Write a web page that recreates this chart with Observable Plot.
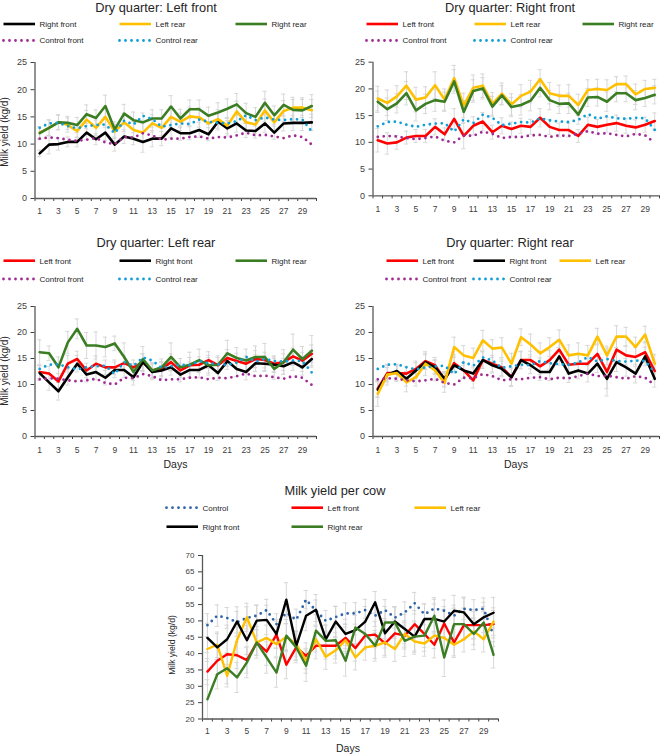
<!DOCTYPE html>
<html><head><meta charset="utf-8">
<script src="https://cdn.jsdelivr.net/npm/d3@7"></script>
<script src="https://cdn.jsdelivr.net/npm/@observablehq/plot@0.6"></script>
<style>
html,body{margin:0;padding:0;background:#fff;}
#wrap{position:relative;width:660px;height:755px;overflow:hidden;font-family:"Liberation Sans",Arial,sans-serif;}
#wrap > svg{position:absolute;}
</style></head><body><div id="wrap"></div>
<script>
// ---------------- DATA ----------------
const days = [1,2,3,4,5,6,7,8,9,10,11,12,13,14,15,16,17,18,19,20,21,22,23,24,25,26,27,28,29,30];
const xTickLabels = [1,3,5,7,9,11,13,15,17,19,21,23,25,27,29];
const yTicksQuarter = [0,5,10,15,20,25];
const yTicksCow = [20,25,30,35,40,45,50,55,60,65,70];

// Controls (same cows in all four quarter panels)
const controlFront = [11,11.2,11.1,10.8,10.6,10.8,11.1,10.3,10,11.3,11.2,12,11.6,10.8,11,11,11.3,11.4,11,11.3,11.2,11.6,12.1,11.6,11.7,11.4,11.1,11.6,11.3,9.9];
const controlRear  = [13,13.8,13.9,13.3,12.9,13.3,13.5,13.6,12,14.3,13.6,15.2,14.6,13.2,13.5,13.8,13.7,14.5,14.1,13.9,13.8,14.2,15.3,14.4,14.9,14.5,14.4,14.6,14.5,12.3];

// Dry quarter: Left front
const lfDry_rightFront = [8.3,9.9,10,10.4,10.4,12.1,10.9,12.1,9.9,11.4,11,10.4,11,11,12.9,12,12,12.6,11.8,14.1,12.9,13.8,12.5,12.4,13.8,12.1,13.8,13.9,13.9,14];
const lfDry_leftRear   = [12.1,13,14,13.5,12.4,14.5,13,15,12.3,14,12.6,12.1,13.8,13,15,14.1,15.1,14.9,13.8,14.6,13.4,16,14,13.6,16.2,14,16.1,16.7,16.7,16.2];
const lfDry_rightRear  = [12,13,14,13.9,13.5,15.5,14.8,17,12.7,15.6,14.4,14,14.7,14.7,16.9,14.7,16.4,16.4,15.2,15.8,16.5,17.3,15.7,15,17.6,15.3,17.2,16.3,16.2,17];
const lfDry_rightFront_se = [0.6,1.7,1.1,0.9,0.9,1.3,1.0,1.4,1.2,1.3,1.1,1.9,1.5,1.3,1.7,1.3,1.2,1.4,1.2,1.5,1.4,1.6,1.3,1.3,1.6,1.2,1.4,1.4,1.4,1.5];
const lfDry_leftRear_se   = [1.1,1.4,1.4,1.3,1.2,1.7,1.4,1.9,1.3,1.7,1.5,1.7,1.6,1.5,1.9,1.6,1.7,1.8,1.6,1.7,1.5,1.9,1.7,1.6,2.1,1.7,1.9,1.9,1.8,2.0];
const lfDry_rightRear_se  = [1.2,1.5,1.3,1.2,1.4,1.7,1.5,2.0,1.4,1.7,1.5,1.7,1.6,1.6,2.0,1.7,1.7,1.7,1.6,1.8,1.8,2.0,1.8,1.7,2.1,1.7,2.0,1.9,2.0,2.1];

// Dry quarter: Right front
const rfDry_leftFront = [10.4,9.8,10,10.9,11.2,11.2,12.9,11.5,14.4,11.2,13.1,13.9,11.9,13.1,12.5,13.1,12.9,14.6,12.9,12.3,12.3,11.2,13.3,12.9,13.3,13.6,13.1,12.8,13.3,14];
const rfDry_leftRear  = [18.2,17.4,18.6,20.6,18,18.4,20.7,18,22,16.9,20.2,20.6,17.2,19.1,17.1,18.7,19.5,21.8,19.2,18.7,18.7,17,19.8,20,19.8,20.9,20.9,19,20,20.2];
const rfDry_rightRear = [17.6,16.2,17.3,19.2,16,17.2,17.9,17.6,21.4,15.7,19.6,20.1,16.7,18.8,16.6,17,17.8,20.2,17.9,17.2,17.3,15.2,18.4,18.5,17.6,19.2,19.2,17.9,18.3,18.9];
const rfDry_leftFront_se = [2.2,2.0,1.3,1.2,1.2,1.2,1.5,1.2,1.9,2.4,1.7,1.7,1.3,1.5,1.3,1.4,1.4,1.7,1.4,1.3,1.3,1.2,1.4,1.4,1.4,1.5,1.4,1.4,1.4,1.5];
const rfDry_leftRear_se  = [2.3,2.4,2.0,2.6,2.3,2.0,2.5,2.0,2.4,2.3,2.4,2.2,2.1,2.0,2.0,2.1,2.1,1.8,2.0,2.0,2.1,2.0,1.9,1.8,1.9,1.4,1.5,1.9,1.6,1.6];
const rfDry_rightRear_se = [2.0,2.1,1.8,2.2,2.0,1.8,2.1,1.8,2.2,2.1,2.1,2.0,1.9,1.8,1.8,1.9,1.9,1.7,1.8,1.8,1.9,1.8,1.7,1.7,1.8,1.6,1.6,1.8,1.6,1.7];

// Dry quarter: Left rear
const lrDry_leftFront  = [12.4,12.1,10.6,14,14.9,12.7,14,13.3,13.3,14.1,13.3,14.3,12.7,13,14.3,12.7,13.7,13.8,14.7,13.7,15.1,14.5,14,14.9,14.7,14,14.3,15.4,14.6,15.9];
const lrDry_rightFront = [12.2,10.4,8.7,11.4,14,11.9,12.4,11.3,12.8,12.8,11.4,14.3,12.4,12.7,13.3,11.9,12.8,12.8,13.7,12.2,14.5,13,12.4,14.1,14,13.8,13.5,14.3,13.3,14.9];
const lrDry_rightRear  = [16.2,16,13.3,18.1,20.7,17.5,17.5,17.2,17.9,15.3,12.4,14.9,12.7,13.3,15.3,13.3,13.8,14.7,13.7,13.8,16,15.1,14.6,15.3,15.3,13,14.3,16.7,14.9,16.5];
const lrDry_leftFront_se  = [1.3,1.4,1.5,1.6,1.5,1.4,1.5,1.4,1.4,1.5,1.4,1.6,1.4,1.4,1.6,1.4,1.5,1.5,1.6,1.5,1.6,1.5,1.5,1.6,1.5,1.5,1.6,1.6,1.5,1.7];
const lrDry_rightFront_se = [1.4,1.5,1.7,1.5,1.6,1.4,1.5,1.4,1.5,1.5,1.5,1.6,1.5,1.5,1.5,1.4,1.5,1.5,1.5,1.4,1.6,1.5,1.5,1.6,1.5,1.5,1.5,1.6,1.5,1.6];
const lrDry_rightRear_se  = [2.4,1.4,2.0,2.1,1.9,2.5,2.6,1.9,1.4,2.7,1.6,2.4,1.5,1.6,2.7,1.7,2.4,2.1,1.9,1.7,2.5,2.0,2.2,2.1,2.6,2.0,2.4,3.0,2.4,2.9];

// Dry quarter: Right rear
const rrDry_leftFront  = [9.2,12.2,12.2,12.1,13,14.5,13.7,10.9,14.1,12.7,10.8,14.7,14,13.3,11.4,14.7,14.7,13.5,14.7,16.7,13.8,14,14,15.9,12.4,16.7,15.6,15.3,16.2,12.6];
const rrDry_rightFront = [9,11.9,12.6,11.1,12.7,14.3,13.3,11.1,13.7,12.7,12.1,14.7,13.7,13,11.4,14.7,13.7,12.4,12.4,15.4,12.1,12.7,12.1,14,11.1,14.3,13.3,12.1,15.4,11.1];
const rrDry_leftRear   = [8.2,11.9,12.2,10.4,11.4,14,12.7,10.3,17.2,15.6,15.1,18.5,16.9,17.1,14,19.1,17.7,16,17.2,18.6,15.6,15.9,15.6,19.2,15.6,19.2,19.2,17.2,19.6,14];
const rrDry_leftFront_se  = [1.6,1.5,1.4,1.4,1.5,1.5,1.5,1.4,1.6,1.6,1.5,1.6,1.6,1.6,1.8,1.7,1.7,1.6,1.8,1.9,1.8,1.7,1.7,1.9,4.6,2.1,1.8,1.8,2.0,1.6];
const rrDry_rightFront_se = [1.5,1.4,1.3,1.4,1.5,1.4,1.4,1.4,1.5,1.5,1.5,1.6,1.5,1.5,1.6,1.6,1.6,1.6,1.6,1.7,1.7,1.6,1.6,1.7,1.9,1.8,1.7,1.8,1.8,1.6];
const rrDry_leftRear_se   = [2.4,2.0,1.6,1.8,1.7,2.3,2.0,1.8,1.9,1.9,1.9,1.9,1.7,1.9,2.0,1.6,2.0,2.0,1.8,1.9,2.0,2.1,1.9,1.6,1.8,2.1,1.8,1.9,1.6,1.8];

// Milk yield per cow
const cow_control    = [48.7,51.6,50.9,49.6,50.9,51.6,53.3,49,52.5,50.3,56.5,53.1,50,51.2,52.3,52.3,53.3,51.6,53.3,51,52.6,55.4,52,53.8,53.1,51.6,53.7,53.3,53.7,45.5];
const cow_leftFront  = [34.5,37.8,39.8,39.5,38,43.4,40.6,45.8,36.6,41.9,39.3,42.4,42.4,42.4,44.8,41.7,45.5,45.8,43.1,46.2,45.5,49,46,42.7,49.2,43.4,48.7,48.7,48.7,49];
const cow_leftRear   = [41.4,42.7,33.2,44.1,51.1,43.4,44.8,42.9,45.2,42.9,37.8,44.4,39,41,44.1,38.8,41.9,42.4,43.4,41.4,46,43.7,43.1,45.5,44.8,42.7,44.4,46.8,44.4,49.8];
const cow_rightFront = [44.8,41.9,44.4,49.8,44.1,50.1,50.3,46,56.5,42.4,51.6,53.4,44.4,49.8,46,47.2,49.8,55.7,46.2,49.8,47.5,45.2,50.6,50.6,49.8,53.1,52.6,49,51.1,52.5];
const cow_rightRear  = [26,33.7,35.5,32.7,37.3,43.4,38.8,34.2,45.5,41.9,36.3,47,43.9,44.1,37.8,48,46,42.4,49.5,49.5,43.9,45.2,45.5,51.6,38.8,49,49,46,49.5,39.6];
const cow_control_se    = [3.5,3.3,3.2,3.3,3.4,3.3,3.3,3.2,3.4,3.3,2.8,3.3,3.2,3.3,3.2,3.3,3.3,3.3,3.2,3.2,3.2,3.3,3.2,3.3,3.3,3.2,3.3,3.2,3.3,3.4];
const cow_leftFront_se  = [4.0,4.2,4.0,4.1,4.0,3.9,4.2,4.1,4.3,4.0,4.0,4.0,4.1,4.0,4.1,4.0,4.1,4.0,4.2,4.1,4.1,4.2,4.1,4.0,4.3,4.1,4.2,4.2,4.1,4.2];
const cow_leftRear_se   = [3.8,3.9,3.4,3.9,4.3,3.9,3.9,3.9,4.0,3.9,3.8,3.9,3.8,3.9,4.0,3.8,3.9,3.9,3.9,3.8,4.0,3.9,3.9,4.0,3.9,3.9,3.9,4.1,3.9,4.2];
const cow_rightFront_se = [4.5,4.2,4.3,4.5,4.4,4.6,4.5,4.4,5.2,4.3,4.6,4.7,4.4,4.6,4.5,4.5,4.6,3.3,4.5,4.6,4.5,4.4,4.6,4.6,4.6,4.7,4.7,4.5,4.6,4.7];
const cow_rightRear_se  = [6.0,4.5,4.7,4.6,4.7,4.8,4.8,4.5,4.9,4.7,4.8,4.9,4.7,4.8,4.7,4.9,4.8,4.7,4.9,4.9,4.8,4.8,4.8,5.0,5.8,4.9,4.9,4.8,4.9,4.0];

// ---------------- STYLES ----------------
const STYLE = {
  "Left front":    {color: "#FF0000"},
  "Right front":   {color: "#000000"},
  "Left rear":     {color: "#FFC000"},
  "Right rear":    {color: "#3B7D23"},
  "Control front": {color: "#A02B93", dotted: true},
  "Control rear":  {color: "#0F9ED5", dotted: true},
  "Control":       {color: "#2F64A8", dotted: true}
};
const ERR = "#D4D4D4";
const AXIS = "#595959";
const TXT = "#262626";
const FONT = '"Liberation Sans", Arial, sans-serif';

const wrap = document.getElementById("wrap");

function makePanel(cfg) {
  const {left, top, width, height, x0, x1, yTop, yBot, yDomain, yTicks, series, yFont, xFont, xPad, lineW} = cfg;
  const rows = [];
  for (const s of series) s.values.forEach((v, i) => rows.push({day: days[i], v, e: s.err ? s.err[i] : null, name: s.name}));
  const errRows = rows.filter(r => r.e != null);
  const boundaries = days.map(d => d - 0.5).concat([days[days.length - 1] + 0.5]);
  const marks = [
    Plot.ruleX(errRows, {x: "day", y1: d => d.v - d.e, y2: d => d.v + d.e, stroke: ERR, strokeWidth: 0.9}),
    Plot.ruleY(errRows, {y: d => d.v + d.e, x1: d => d.day - 0.22, x2: d => d.day + 0.22, stroke: ERR, strokeWidth: 0.9}),
    Plot.ruleY(errRows, {y: d => d.v - d.e, x1: d => d.day - 0.22, x2: d => d.day + 0.22, stroke: ERR, strokeWidth: 0.9})
  ];
  for (const s of series) {
    const st = STYLE[s.name];
    const opts = {x: "day", y: "v", stroke: st.color, strokeLinejoin: "round"};
    if (st.dotted) { opts.strokeWidth = 2.8; opts.strokeDasharray = "0,6"; opts.strokeLinecap = "round"; }
    else { opts.strokeWidth = lineW; }
    marks.push(Plot.line(rows.filter(r => r.name === s.name), opts));
  }
  marks.push(
    Plot.axisY({ticks: yTicks, tickSize: 4, tickPadding: 4, fontSize: yFont, tickFormat: d => String(d)}),
    Plot.axisX({ticks: boundaries, tickSize: 3, tickFormat: () => ""}),
    Plot.axisX({ticks: xTickLabels, tickSize: 0, tickPadding: xPad, fontSize: xFont, tickFormat: d => String(d)}),
    Plot.ruleX([0.5], {stroke: AXIS, strokeWidth: 1.3}),
    Plot.ruleY([yDomain[0]], {stroke: AXIS, strokeWidth: 1.3})
  );
  const svg = Plot.plot({
    width, height,
    marginLeft: x0 - left, marginRight: left + width - x1,
    marginTop: yTop - top, marginBottom: top + height - yBot,
    x: {domain: [0.5, 30.5], label: null},
    y: {domain: yDomain, label: null},
    style: {background: "transparent", color: "#404040", fontFamily: FONT},
    marks
  });
  svg.style.left = left + "px";
  svg.style.top = top + "px";
  wrap.appendChild(svg);
}

makePanel({left: 0, top: 50, width: 330, height: 172, x0: 34.5, x1: 316, yTop: 62, yBot: 198,
  yDomain: [0, 25], yTicks: yTicksQuarter, yFont: 9, xFont: 8.5, xPad: 9, lineW: 2.6,
  series: [
    {name: "Right front", values: lfDry_rightFront, err: lfDry_rightFront_se},
    {name: "Left rear", values: lfDry_leftRear, err: lfDry_leftRear_se},
    {name: "Right rear", values: lfDry_rightRear, err: lfDry_rightRear_se},
    {name: "Control front", values: controlFront},
    {name: "Control rear", values: controlRear}
  ]});

makePanel({left: 330, top: 50, width: 330, height: 172, x0: 372.5, x1: 659, yTop: 61.7, yBot: 195.3,
  yDomain: [0, 25], yTicks: yTicksQuarter, yFont: 9, xFont: 8.5, xPad: 10, lineW: 2.6,
  series: [
    {name: "Left front", values: rfDry_leftFront, err: rfDry_leftFront_se},
    {name: "Left rear", values: rfDry_leftRear, err: rfDry_leftRear_se},
    {name: "Right rear", values: rfDry_rightRear, err: rfDry_rightRear_se},
    {name: "Control front", values: controlFront},
    {name: "Control rear", values: controlRear}
  ]});

makePanel({left: 0, top: 292, width: 330, height: 166, x0: 34.5, x1: 316, yTop: 306, yBot: 436,
  yDomain: [0, 25], yTicks: yTicksQuarter, yFont: 9, xFont: 8.5, xPad: 10, lineW: 2.6,
  series: [
    {name: "Left front", values: lrDry_leftFront, err: lrDry_leftFront_se},
    {name: "Right front", values: lrDry_rightFront, err: lrDry_rightFront_se},
    {name: "Right rear", values: lrDry_rightRear, err: lrDry_rightRear_se},
    {name: "Control front", values: controlFront},
    {name: "Control rear", values: controlRear}
  ]});

makePanel({left: 330, top: 292, width: 330, height: 166, x0: 372.5, x1: 659, yTop: 306, yBot: 436,
  yDomain: [0, 25], yTicks: yTicksQuarter, yFont: 9, xFont: 8.5, xPad: 10, lineW: 2.6,
  series: [
    {name: "Left front", values: rrDry_leftFront, err: rrDry_leftFront_se},
    {name: "Right front", values: rrDry_rightFront, err: rrDry_rightFront_se},
    {name: "Left rear", values: rrDry_leftRear, err: rrDry_leftRear_se},
    {name: "Control front", values: controlFront},
    {name: "Control rear", values: controlRear}
  ]});

makePanel({left: 150, top: 540, width: 360, height: 202, x0: 202, x1: 498, yTop: 555, yBot: 718.5,
  yDomain: [20, 70], yTicks: yTicksCow, yFont: 8, xFont: 8.5, xPad: 9, lineW: 2.4,
  series: [
    {name: "Control", values: cow_control, err: cow_control_se},
    {name: "Left front", values: cow_leftFront, err: cow_leftFront_se},
    {name: "Left rear", values: cow_leftRear, err: cow_leftRear_se},
    {name: "Right front", values: cow_rightFront, err: cow_rightFront_se},
    {name: "Right rear", values: cow_rightRear, err: cow_rightRear_se}
  ]});

// ---------------- TITLES, LEGENDS, AXIS TITLES ----------------
const titles = [
  {text: "Dry quarter: Left front", x: 156, y: 11.5},
  {text: "Dry quarter: Right front", x: 510, y: 11.5},
  {text: "Dry quarter: Left rear", x: 156, y: 246.5},
  {text: "Dry quarter: Right rear", x: 510, y: 246.5},
  {text: "Milk yield per cow", x: 335, y: 494.5}
];
const legends = [
  {rows: [24, 40.5], items: [["Right front", 2, 0], ["Left rear", 118, 0], ["Right rear", 234, 0], ["Control front", 2, 1], ["Control rear", 118, 1]]},
  {rows: [24, 40.5], items: [["Left front", 365, 0], ["Left rear", 473, 0], ["Right rear", 581, 0], ["Control front", 365, 1], ["Control rear", 473, 1]]},
  {rows: [260.7, 279], items: [["Left front", 2, 0], ["Right front", 118, 0], ["Right rear", 234, 0], ["Control front", 2, 1], ["Control rear", 118, 1]]},
  {rows: [260.7, 279], items: [["Left front", 385, 0], ["Right front", 472, 0], ["Left rear", 558, 0], ["Control front", 385, 1], ["Control rear", 472, 1]]},
  {rows: [507.7, 526.7], items: [["Control", 165, 0], ["Left front", 290, 0], ["Left rear", 413, 0], ["Right front", 165, 1], ["Right rear", 290, 1]]}
];
const yTitles = [
  {text: "Milk yield (kg/d)", x: 7.5, y: 132, size: 10},
  {text: "Milk yield (kg/d)", x: 7.5, y: 371, size: 10},
  {text: "Milk yield (kg/d)", x: 175, y: 645, size: 8.6}
];
const xTitles = [
  {text: "Days", x: 175.5, y: 467.7},
  {text: "Days", x: 516, y: 467.7},
  {text: "Days", x: 348, y: 752}
];

const ov = d3.create("svg").attr("width", 660).attr("height", 755)
  .style("left", "0px").style("top", "0px").style("pointer-events", "none")
  .attr("font-family", FONT);
for (const t of titles) ov.append("text").attr("x", t.x).attr("y", t.y).attr("text-anchor", "middle")
  .attr("font-size", 12.8).attr("fill", TXT).text(t.text);
for (const lg of legends) {
  for (const [name, sx, r] of lg.items) {
    const st = STYLE[name];
    const y = lg.rows[r];
    const ln = ov.append("line").attr("x1", sx + 1.5).attr("x2", sx + 33).attr("y1", y).attr("y2", y)
      .attr("stroke", st.color);
    if (st.dotted) ln.attr("stroke-width", 2.8).attr("stroke-dasharray", "0,6").attr("stroke-linecap", "round");
    else ln.attr("stroke-width", 2.6);
    ov.append("text").attr("x", sx + 37.5).attr("y", y + 2.9).attr("font-size", 8).attr("fill", TXT).text(name);
  }
}
for (const t of yTitles) ov.append("text").attr("transform", `translate(${t.x},${t.y}) rotate(-90)`)
  .attr("text-anchor", "middle").attr("font-size", t.size).attr("fill", TXT).text(t.text);
for (const t of xTitles) ov.append("text").attr("x", t.x).attr("y", t.y).attr("text-anchor", "middle")
  .attr("font-size", 10.5).attr("fill", TXT).text(t.text);
wrap.appendChild(ov.node());
</script>
</body></html>
